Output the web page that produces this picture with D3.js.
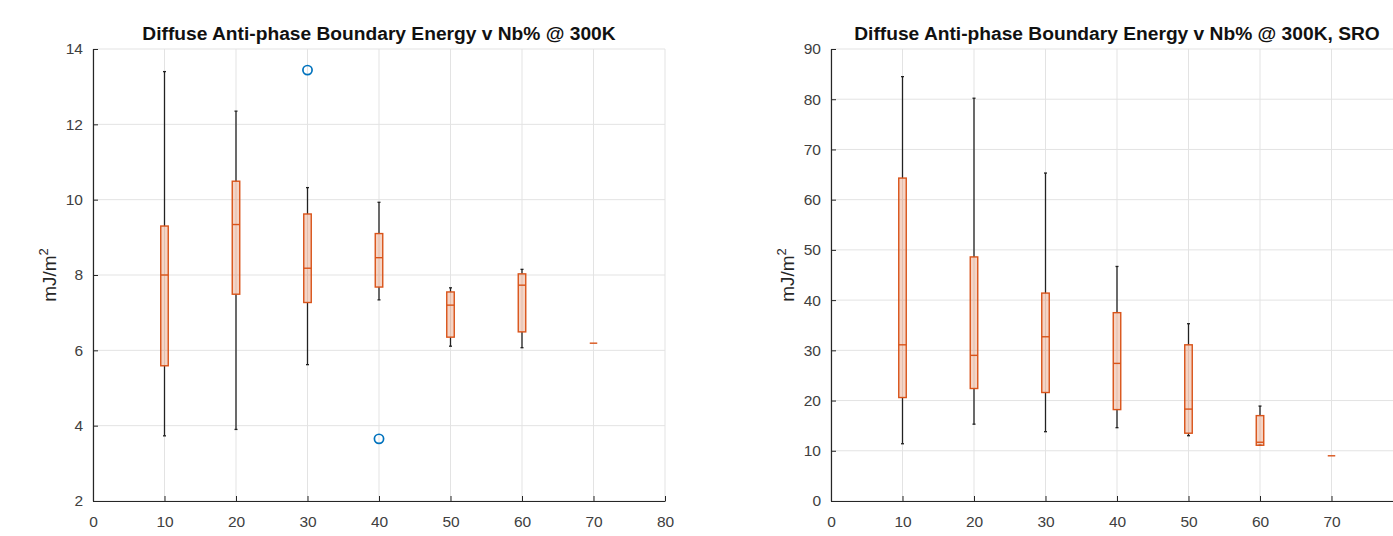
<!DOCTYPE html>
<html>
<head>
<meta charset="utf-8">
<script src="https://cdn.jsdelivr.net/npm/d3@7"></script>
<style>
  body { margin: 0; background: #fff; }
  svg { display: block; font-family: "Liberation Sans", Arial, sans-serif; }
</style>
</head>
<body>
<svg id="chart" width="1393" height="536"></svg>
<script>
// Nb% groups
const nbLevels = [10, 20, 30, 40, 50, 60, 70];

// left panel: APB energy @ 300K
const aLow = [3.73, 3.90, 5.62, 7.34, 6.11, 6.07, 6.19];
const aQ1 = [5.59, 7.49, 7.27, 7.68, 6.35, 6.49, 6.19];
const aMed = [8.00, 9.34, 8.18, 8.46, 7.20, 7.73, 6.19];
const aQ3 = [9.30, 10.49, 9.62, 9.10, 7.55, 8.03, 6.19];
const aHigh = [13.40, 12.35, 10.32, 9.93, 7.66, 8.15, 6.19];
const aOutX = [30, 40];
const aOutY = [13.44, 3.65];

// right panel: APB energy @ 300K, SRO
const bLow = [11.4, 15.3, 13.8, 14.6, 13.0, 11.1, 9.0];
const bQ1 = [20.6, 22.4, 21.6, 18.2, 13.5, 11.1, 9.0];
const bMed = [31.1, 29.0, 32.7, 27.4, 18.3, 11.7, 9.0];
const bQ3 = [64.3, 48.6, 41.4, 37.5, 31.1, 17.0, 9.0];
const bHigh = [84.5, 80.2, 65.3, 46.7, 35.3, 18.9, 9.0];

const titles = ["Diffuse Anti-phase Boundary Energy v Nb% @ 300K",
                "Diffuse Anti-phase Boundary Energy v Nb% @ 300K, SRO"];

const W = 1393;
const svg = d3.select("#chart");
const axisCol = "#262626", tickTxt = "#404040", gridCol = "#e3e3e3", boxCol = "#d95319", outCol = "#0072bd";

function panel(left, yDomain, yTicks, stats, outX, outY, title) {
  const w = 572, top = 49, bottom = 501;
  const x = d3.scaleLinear().domain([0, 80]).range([left, left + w]);
  const y = d3.scaleLinear().domain(yDomain).range([bottom, top]);
  const g = svg.append("g");

  // grid
  g.append("g").selectAll("line").data(x.ticks(8)).join("line")
    .attr("x1", d => x(d)).attr("x2", d => x(d)).attr("y1", top).attr("y2", bottom)
    .attr("stroke", gridCol);
  g.append("g").selectAll("line").data(yTicks).join("line")
    .attr("x1", left).attr("x2", left + w).attr("y1", d => y(d)).attr("y2", d => y(d))
    .attr("stroke", gridCol);

  // axes, ticks pointing inward
  const xa = g.append("g").attr("transform", `translate(0,${bottom})`)
    .call(d3.axisBottom(x).ticks(8).tickSizeInner(-5).tickSizeOuter(0).tickPadding(15));
  const ya = g.append("g").attr("transform", `translate(${left},0)`)
    .call(d3.axisLeft(y).tickValues(yTicks).tickSizeInner(-5).tickSizeOuter(0).tickPadding(10));
  [xa, ya].forEach(a => {
    a.select(".domain").attr("stroke", axisCol).attr("stroke-width", 1.2);
    a.selectAll(".tick line").attr("stroke", axisCol);
    a.selectAll("text").attr("fill", tickTxt).attr("font-size", 15.5);
  });
  // drop labels that fall past the page edge
  xa.selectAll(".tick").filter(d => x(d) + 8 > W).select("text").remove();

  // title + y label
  g.append("text").attr("x", left + w / 2).attr("y", 40).attr("text-anchor", "middle")
    .attr("font-weight", "bold").attr("font-size", 19.2).attr("fill", "#111").text(title);
  const yl = g.append("text").attr("transform", `translate(${left - 37},${(top + bottom) / 2}) rotate(-90)`)
    .attr("text-anchor", "middle").attr("font-size", 19).attr("fill", axisCol);
  yl.append("tspan").text("mJ/m");
  yl.append("tspan").attr("font-size", 13).attr("dy", -8).text("2");

  // boxes
  const bw = 7.5, cap = 3;
  const rows = nbLevels.map((n, i) => ({ n, lo: stats[0][i], q1: stats[1][i], md: stats[2][i], q3: stats[3][i], hi: stats[4][i] }));
  const b = g.append("g").selectAll("g").data(rows).join("g");
  b.append("line").attr("x1", d => x(d.n)).attr("x2", d => x(d.n))
    .attr("y1", d => y(d.hi)).attr("y2", d => y(d.q3)).attr("stroke", "#222").attr("stroke-width", 1.3);
  b.append("line").attr("x1", d => x(d.n)).attr("x2", d => x(d.n))
    .attr("y1", d => y(d.q1)).attr("y2", d => y(d.lo)).attr("stroke", "#222").attr("stroke-width", 1.3);
  b.filter(d => d.hi > d.lo).selectAll(".cap").data(d => [[d.n, d.hi], [d.n, d.lo]]).join("line")
    .attr("x1", d => x(d[0]) - cap / 2).attr("x2", d => x(d[0]) + cap / 2)
    .attr("y1", d => y(d[1])).attr("y2", d => y(d[1])).attr("stroke", "#222").attr("stroke-width", 1.3);
  b.append("rect").attr("x", d => x(d.n) - bw / 2).attr("width", bw)
    .attr("y", d => y(d.q3)).attr("height", d => y(d.q1) - y(d.q3))
    .attr("fill", boxCol).attr("fill-opacity", 0.25).attr("stroke", boxCol).attr("stroke-width", 1.4);
  b.append("line").attr("x1", d => x(d.n) - bw / 2).attr("x2", d => x(d.n) + bw / 2)
    .attr("y1", d => y(d.md)).attr("y2", d => y(d.md)).attr("stroke", boxCol).attr("stroke-width", 1.4);

  // outliers
  g.append("g").selectAll("circle").data(outX.map((v, i) => [v, outY[i]])).join("circle")
    .attr("cx", d => x(d[0])).attr("cy", d => y(d[1])).attr("r", 4.6)
    .attr("fill", "none").attr("stroke", outCol).attr("stroke-width", 1.7);
}

panel(93, [2, 14], d3.range(2, 15, 2), [aLow, aQ1, aMed, aQ3, aHigh], aOutX, aOutY, titles[0]);
panel(831, [0, 90], d3.range(0, 91, 10), [bLow, bQ1, bMed, bQ3, bHigh], [], [], titles[1]);
</script>
</body>
</html>
